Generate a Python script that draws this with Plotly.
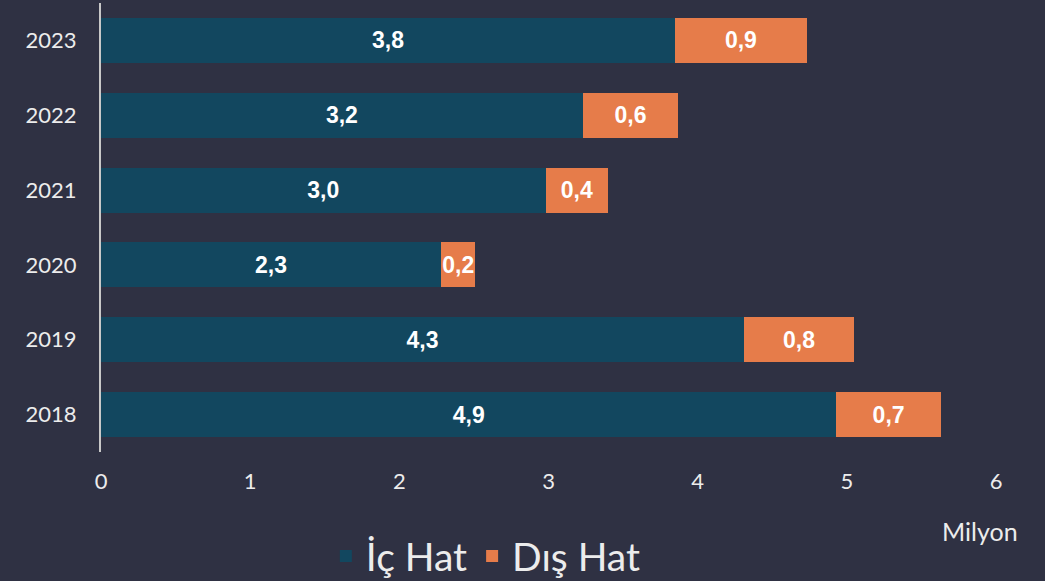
import plotly.graph_objects as go

years = ["2018", "2019", "2020", "2021", "2022", "2023"]
ic_hat = [4.93, 4.31, 2.28, 2.98, 3.23, 3.85]
dis_hat = [0.70, 0.74, 0.23, 0.42, 0.64, 0.88]
ic_labels = ["4,9", "4,3", "2,3", "3,0", "3,2", "3,8"]
dis_labels = ["0,7", "0,8", "0,2", "0,4", "0,6", "0,9"]
x_ticks = [0, 1, 2, 3, 4, 5, 6]

BG = "#2f3143"
DARK = "#12475f"
ORANGE = "#e67c4a"
TXT = "#ececec"

lblfont = dict(family="Liberation Sans, Arial, sans-serif", size=23, color="white", weight="bold")

fig = go.Figure()
fig.add_trace(go.Bar(
    y=years, x=ic_hat, name="İç Hat", orientation="h",
    marker=dict(color=DARK, line=dict(width=0)),
    text=ic_labels, texttemplate="%{text}", textposition="inside", insidetextanchor="middle",
    textangle=0, constraintext="none", textfont=lblfont,
))
fig.add_trace(go.Bar(
    y=years, x=dis_hat, name="Dış Hat", orientation="h",
    marker=dict(color=ORANGE, line=dict(width=0)),
    text=dis_labels, texttemplate="%{text}", textposition="inside", insidetextanchor="middle",
    textangle=0, constraintext="none", textfont=lblfont,
))

fig.update_layout(
    barmode="stack",
    bargap=0.4,
    width=1045, height=581,
    paper_bgcolor=BG, plot_bgcolor=BG,
    separators=",.",
    margin=dict(l=101, r=49, t=3, b=129, autoexpand=False),
    font=dict(family="Lato, sans-serif", color=TXT, size=22),
    showlegend=True,
    legend=dict(
        orientation="h", traceorder="normal",
        x=0.43, xanchor="center", y=-0.232, yanchor="middle",
        font=dict(family="Lato, sans-serif", size=39, color=TXT),
        bgcolor="rgba(0,0,0,0)", itemwidth=30,
    ),
    xaxis=dict(
        range=[0, 6], tickvals=x_ticks, showgrid=False, zeroline=False,
        showline=False, ticks="", tickfont=dict(size=22, color=TXT),
        ticklabelstandoff=14,
        fixedrange=True, automargin=False,
    ),
    yaxis=dict(
        categoryorder="array", categoryarray=years,
        showgrid=False, zeroline=False, automargin=False,
        showline=True, linecolor="#c8c8c8", linewidth=2,
        ticks="", ticklabelstandoff=18, tickfont=dict(size=22, color=TXT),
    ),
    annotations=[dict(
        text="Milyon", xref="paper", yref="paper", x=0.982, y=-0.175,
        xanchor="center", yanchor="middle", showarrow=False,
        font=dict(family="Lato, sans-serif", size=25, color=TXT),
    )],
)

fig.write_html(
    "out.html",
    config={"displayModeBar": False},
    post_script="document.body.style.margin='0';document.body.style.background='%s';" % BG,
)
